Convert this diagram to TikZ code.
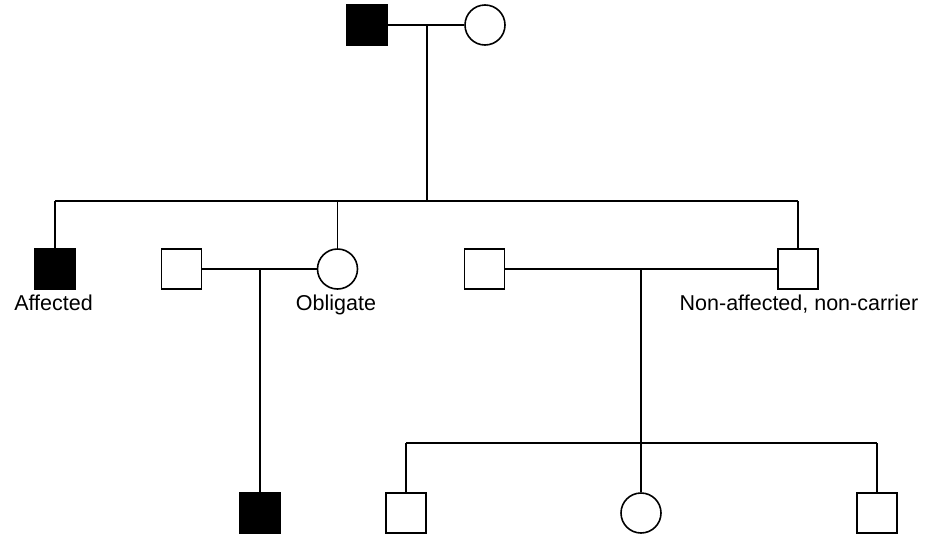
\documentclass[tikz,border=0pt]{standalone}
\usepackage{fontspec}
\setmainfont{Liberation Sans}
\begin{document}
\begin{tikzpicture}[x=1pt,y=-1pt,
  male/.style={draw=black,line width=1.6pt,rectangle,minimum width=40pt,minimum height=40pt,inner sep=0pt,fill=white},
  female/.style={draw=black,line width=1.6pt,circle,minimum size=40pt,inner sep=0pt,fill=white},
  aff/.style={fill=black},
  lbl/.style={font=\fontsize{21.5}{24}\selectfont,anchor=base,inner sep=0pt},
  link/.style={line width=1.5pt,draw=black}]
\useasboundingbox (0,0) rectangle (926,536);
% generation I
\node[male,aff] (gf) at (367,25) {};
\node[female] (gm) at (485,25) {};
% generation II
\node[male,aff] (c1) at (55,269) {};
\node[male] (sp1) at (181.5,269) {};
\node[female] (c2) at (337.5,269) {};
\node[male] (sp2) at (484.5,269) {};
\node[male] (c3) at (798,269) {};
% generation III
\node[male,aff] (g1) at (260,513) {};
\node[male] (g2) at (406,513) {};
\node[female] (g3) at (641,513) {};
\node[male] (g4) at (877,513) {};
% labels
\node[lbl] (l1) at (53.5,310) {Affected};
\node[lbl] (l2) at (336,310) {Obligate};
\node[lbl] (l3) at (799,310) {Non-affected, non-carrier};
% junction coordinates
\coordinate (j1) at (427,25);
\coordinate (s1) at (427,201);
\coordinate (s1l) at (55,201);
\coordinate (s1r) at (798,201);
\coordinate (s1m) at (337.5,201);
\coordinate (j2) at (260,269);
\coordinate (j3) at (641,269);
\coordinate (s3) at (641,443);
\coordinate (s3l) at (406,443);
\coordinate (s3r) at (877,443);
\coordinate (s3a) at (406,443);
% connectors
\draw[link] (gf.east) -- (gm.west);
\draw[link] (j1) -- (s1);
\draw[link] (s1l) -- (s1r);
\draw[link] (s1l) -- (c1.north);
\draw[link] (s1m) -- (c2.north);
\draw[link] (s1r) -- (c3.north);
\draw[link] (sp1.east) -- (c2.west);
\draw[link] (j2) -- (g1.north);
\draw[link] (sp2.east) -- (c3.west);
\draw[link] (j3) -- (s3);
\draw[link] (s3l) -- (s3r);
\draw[link] (s3l) -- (g2.north);
\draw[link] (s3) -- (g3.north);
\draw[link] (s3r) -- (g4.north);
\end{tikzpicture}
\end{document}
